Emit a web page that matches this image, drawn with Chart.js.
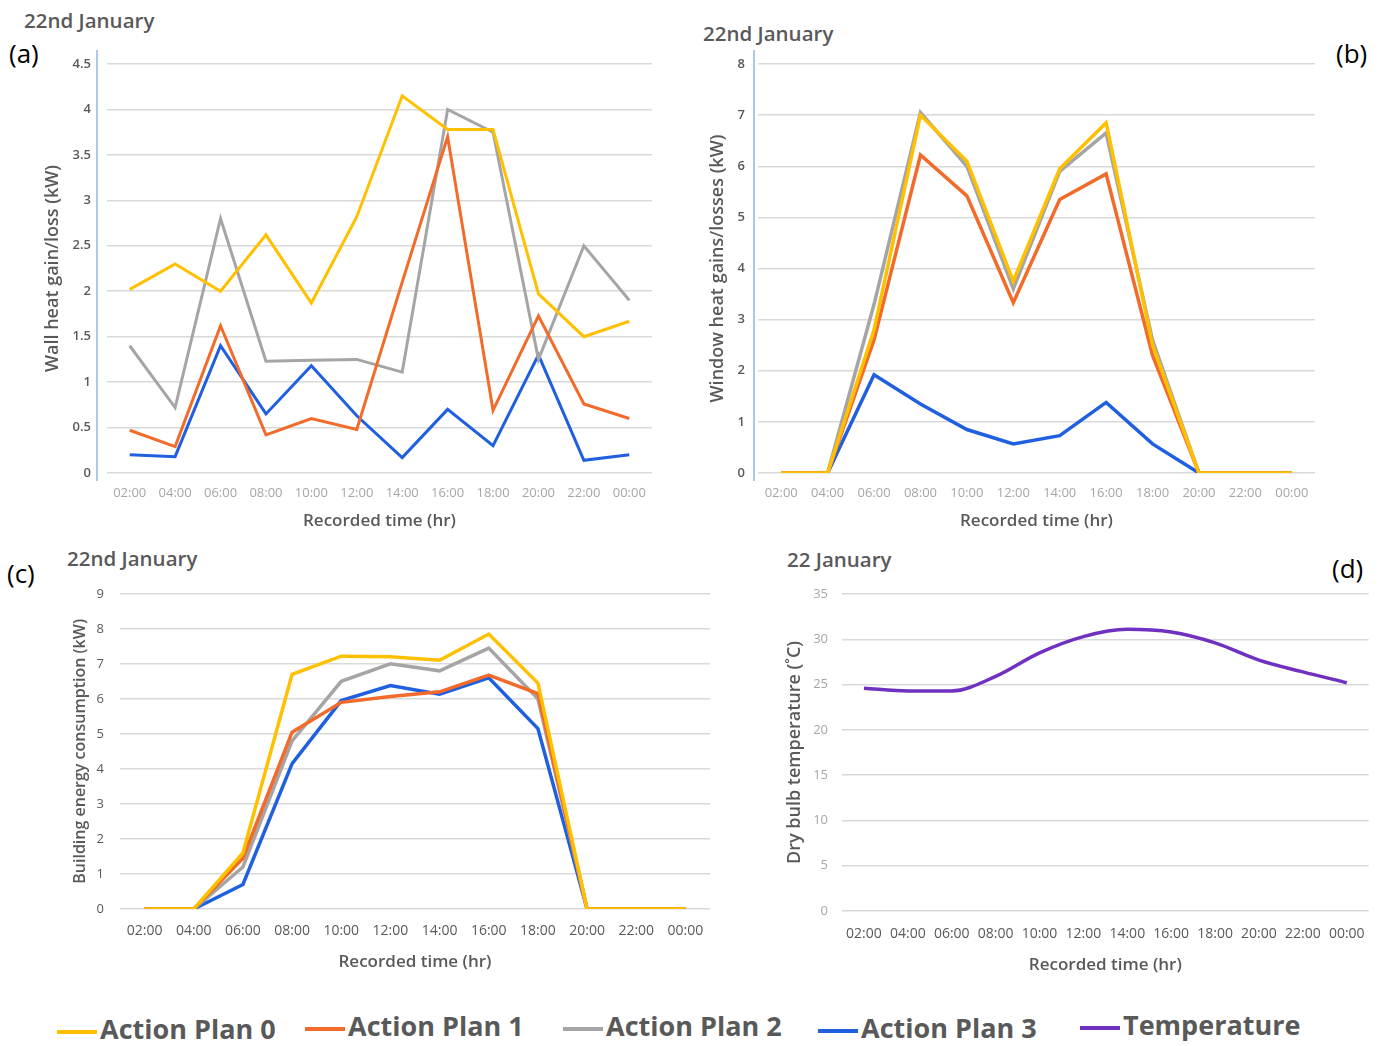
<!DOCTYPE html>
<html>
<head>
<meta charset="utf-8">
<script src="https://cdn.jsdelivr.net/npm/chart.js@4"></script>
<style>
    body { margin: 0; background: #fff; width: 1385px; height: 1046px; position: relative; overflow: hidden; font-family: 'Open Sans', sans-serif; }
    .box { position: absolute; }
    .title { position: absolute; font-weight: 600; font-size: 20.5px; color: #595959; white-space: nowrap; }
    .panel { position: absolute; font-size: 26px; color: #000; }
    .legend-item { position: absolute; font-weight: 700; font-size: 27px; color: #595959; white-space: nowrap; }
    .legend-item span.mark { display: inline-block; width: 40px; height: 4px; vertical-align: middle; margin-right: 3px; }
</style>
</head>
<body>
<div class="title" style="left:24px; top:6px;">22nd January</div>
<div class="panel" style="left:9px; top:35px;">(a)</div>
<div class="box" style="left:42px; top:40px; width:620px; height:500px;"><canvas id="wallChart"></canvas></div>

<div class="title" style="left:703px; top:19px;">22nd January</div>
<div class="panel" style="left:1336px; top:35px;">(b)</div>
<div class="box" style="left:707px; top:40px; width:623px; height:500px;"><canvas id="windowChart"></canvas></div>

<div class="title" style="left:67px; top:544px;">22nd January</div>
<div class="panel" style="left:7px; top:555px;">(c)</div>
<div class="box" style="left:71px; top:570px; width:649px; height:415px;"><canvas id="energyChart"></canvas></div>

<div class="title" style="left:787px; top:545px;">22 January</div>
<div class="panel" style="left:1332px; top:550px;">(d)</div>
<div class="box" style="left:784px; top:570px; width:596px; height:415px;"><canvas id="tempChart"></canvas></div>

<div id="legend"></div>

<script>
// time axis
const hours = ['02:00', '04:00', '06:00', '08:00', '10:00', '12:00', '14:00', '16:00', '18:00', '20:00', '22:00', '00:00'];
const seriesNames = ['Action Plan 0', 'Action Plan 1', 'Action Plan 2', 'Action Plan 3', 'Temperature'];
const seriesColors = ['#ffc000', '#f26b2a', '#a5a5a5', '#1f5fe0', '#7030c0'];

// (a) wall heat gain/loss (kW)
const wallPlan0 = [2.02, 2.3, 2.0, 2.62, 1.87, 2.82, 4.15, 3.78, 3.78, 1.97, 1.5, 1.67];
const wallPlan1 = [0.47, 0.29, 1.62, 0.42, 0.6, 0.48, 2.1, 3.7, 0.69, 1.73, 0.76, 0.6];
const wallPlan2 = [1.4, 0.72, 2.8, 1.23, 1.24, 1.25, 1.11, 4.0, 3.75, 1.25, 2.5, 1.9];
const wallPlan3 = [0.2, 0.18, 1.4, 0.65, 1.18, 0.63, 0.17, 0.7, 0.3, 1.3, 0.14, 0.2];

// (b) window heat gains/losses (kW)
const windowPlan0 = [0, 0, 2.8, 7.0, 6.1, 3.75, 5.95, 6.85, 2.5, 0, 0, 0];
const windowPlan1 = [0, 0, 2.6, 6.22, 5.42, 3.33, 5.35, 5.85, 2.3, 0, 0, 0];
const windowPlan2 = [0, 0, 3.3, 7.05, 6.0, 3.6, 5.9, 6.65, 2.6, 0, 0, 0];
const windowPlan3 = [0, 0, 1.92, 1.35, 0.85, 0.57, 0.73, 1.38, 0.57, 0, 0, 0];

// (c) building energy consumption (kW)
const energyPlan0 = [0, 0, 1.6, 6.7, 7.22, 7.2, 7.1, 7.85, 6.45, 0, 0, 0];
const energyPlan1 = [0, 0, 1.45, 5.05, 5.9, 6.07, 6.2, 6.68, 6.15, 0, 0, 0];
const energyPlan2 = [0, 0, 1.2, 4.8, 6.5, 7.0, 6.8, 7.45, 6.0, 0, 0, 0];
const energyPlan3 = [0, 0, 0.7, 4.15, 5.95, 6.38, 6.13, 6.6, 5.15, 0, 0, 0];

// (d) dry bulb temperature (C)
const temperature = [24.6, 24.3, 24.3, 25.9, 28.5, 30.3, 31.1, 30.8, 29.6, 27.7, 26.4, 25.2];

// light blue vertical axis line drawn a little left of the grid
const axisLinePlugin = {
    id: 'axisLine',
    afterDraw(chart, args, opts) {
        if (!opts.show) return;
        const ctx = chart.ctx;
        const area = chart.chartArea;
        const x = area.left - opts.gap;
        ctx.save();
        ctx.strokeStyle = '#8fb4ea';
        ctx.lineWidth = 1.5;
        ctx.beginPath();
        ctx.moveTo(x, area.top - 14);
        ctx.lineTo(x, area.bottom + 8);
        ctx.stroke();
        ctx.restore();
    }
};

function planDatasets(values, width) {
    return values.map((v, i) => ({
        label: seriesNames[i],
        data: v,
        borderColor: seriesColors[i],
        backgroundColor: seriesColors[i],
        borderWidth: width,
        pointRadius: 0,
        tension: 0
    }));
}

function makeChart(id, datasets, cfg) {
    const ctx = document.getElementById(id).getContext('2d');
    return new Chart(ctx, {
        type: 'line',
        data: { labels: hours, datasets: datasets },
        plugins: [axisLinePlugin],
        options: {
            responsive: true,
            maintainAspectRatio: false,
            animation: false,
            layout: { padding: { top: cfg.padTop, right: cfg.padRight, left: 0, bottom: 0 } },
            plugins: {
                legend: { display: false },
                tooltip: { enabled: false },
                axisLine: { show: cfg.axisGap !== undefined, gap: cfg.axisGap }
            },
            scales: {
                x: {
                    offset: true,
                    afterFit: s => { s.height = cfg.xHeight; },
                    grid: { display: false, drawTicks: false },
                    border: { display: false },
                    ticks: {
                        autoSkip: false, maxRotation: 0, padding: cfg.xTickPad,
                        color: cfg.xTickColor,
                        font: { family: 'Open Sans', size: cfg.xTickSize }
                    },
                    title: {
                        display: true, text: 'Recorded time (hr)', color: '#595959',
                        font: { family: 'Open Sans', size: 17, weight: '600' },
                        padding: { top: 0, bottom: cfg.xTitlePad }
                    }
                },
                y: {
                    min: 0, max: cfg.yMax,
                    afterFit: s => { s.width = cfg.yWidth; },
                    grid: { color: '#d9d9d9', lineWidth: 1.5, drawTicks: false },
                    border: { display: false },
                    ticks: {
                        stepSize: cfg.yStep, padding: cfg.yTickPad,
                        color: cfg.yTickColor,
                        callback: v => String(v),
                        font: { family: 'Open Sans', size: 13, weight: cfg.yTickWeight }
                    },
                    title: {
                        display: true, text: cfg.yTitle, color: '#595959',
                        font: { family: 'Open Sans', size: cfg.yTitleSize, weight: '600' },
                        padding: 0
                    }
                }
            }
        }
    });
}

makeChart('wallChart', planDatasets([wallPlan0, wallPlan1, wallPlan2, wallPlan3], 3), {
    padTop: 24, padRight: 10, xHeight: 67, yWidth: 65, yMax: 4.5, yStep: 0.5,
    xTickPad: 12, xTickColor: '#a6a6a6', xTickSize: 13, xTitlePad: 9,
    yTickPad: 16, yTickColor: '#595959', yTickWeight: '600',
    yTitle: 'Wall heat gain/loss (kW)', yTitleSize: 18, axisGap: 10
});

makeChart('windowChart', planDatasets([windowPlan0, windowPlan1, windowPlan2, windowPlan3], 3.5), {
    padTop: 24, padRight: 15, xHeight: 67, yWidth: 51, yMax: 8, yStep: 1,
    xTickPad: 12, xTickColor: '#a6a6a6', xTickSize: 13, xTitlePad: 9,
    yTickPad: 13, yTickColor: '#595959', yTickWeight: '600',
    yTitle: 'Window heat gains/losses (kW)', yTitleSize: 18, axisGap: 4
});

makeChart('energyChart', planDatasets([energyPlan0, energyPlan1, energyPlan2, energyPlan3], 3.5), {
    padTop: 22, padRight: 10, xHeight: 76, yWidth: 49, yMax: 9, yStep: 1,
    xTickPad: 14, xTickColor: '#595959', xTickSize: 14, xTitlePad: 13,
    yTickPad: 16, yTickColor: '#595959', yTickWeight: '400',
    yTitle: 'Building energy consumption (kW)', yTitleSize: 16
});

makeChart('tempChart', [{
    label: seriesNames[4],
    data: temperature,
    borderColor: seriesColors[4],
    borderWidth: 3.5,
    pointRadius: 0,
    cubicInterpolationMode: 'monotone'
}], {
    padTop: 24, padRight: 10, xHeight: 74, yWidth: 58, yMax: 35, yStep: 5,
    xTickPad: 15, xTickColor: '#595959', xTickSize: 14, xTitlePad: 10,
    yTickPad: 14, yTickColor: '#a6a6a6', yTickWeight: '400',
    yTitle: 'Dry bulb temperature (˚C)', yTitleSize: 18
});

// shared legend along the bottom
const legendPos = [[57, 1010], [305, 1007], [563, 1007], [818, 1009], [1080, 1006]];
const legend = document.getElementById('legend');
seriesNames.forEach((name, i) => {
    const item = document.createElement('div');
    item.className = 'legend-item';
    item.style.left = legendPos[i][0] + 'px';
    item.style.top = legendPos[i][1] + 'px';
    item.innerHTML = '<span class="mark" style="background:' + seriesColors[i] + '"></span>' + name;
    legend.appendChild(item);
});
</script>
</body>
</html>
